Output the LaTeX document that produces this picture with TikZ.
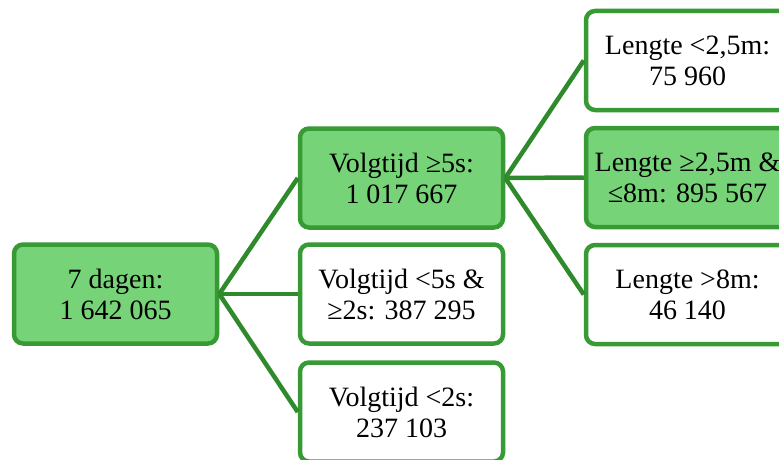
\documentclass[tikz,border=0pt]{standalone}
\usepackage{fontspec}
\setmainfont{Liberation Serif}
\definecolor{boxline}{HTML}{389A34}
\definecolor{boxfill}{HTML}{77D378}
\definecolor{conn}{HTML}{2F8A2C}
\begin{document}
\begin{tikzpicture}[x=1pt,y=-1pt,
  tbox/.style={draw=boxline, line width=4.5pt, rounded corners=9pt, minimum width=203pt, minimum height=99pt,
    align=center, inner sep=0pt, font=\rmfamily\fontsize{28}{31}\selectfont},
  hl/.style={tbox, fill=boxfill},
  pl/.style={tbox, fill=white},
  link/.style={draw=conn, line width=4.5pt}]
\useasboundingbox (0,0) rectangle (779,460);
\node[hl] (root) at (115.5,294) {7 dagen:\\1 642 065};
\node[hl] (m1) at (401.5,178) {Volgtijd ≥5s:\\1 017 667};
\node[pl] (m2) at (401.5,294) {Volgtijd <5s \&\\≥2s: 387 295};
\node[pl] (m3) at (401.5,412) {Volgtijd <2s:\\237 103};
\node[pl] (r1) at (687.5,60.5) {Lengte <2,5m:\\75 960};
\node[hl] (r2) at (687.5,177.5) {Lengte ≥2,5m \&\\≤8m: 895 567};
\node[pl] (r3) at (687.5,294.5) {Lengte >8m:\\46 140};
\draw[link] (root.east) -- (m1.west);
\draw[link] (root.east) -- (m2.west);
\draw[link] (root.east) -- (m3.west);
\draw[link] (m1.east) -- (r1.west);
\draw[link] (m1.east) -- (r2.west);
\draw[link] (m1.east) -- (r3.west);
\end{tikzpicture}
\end{document}
